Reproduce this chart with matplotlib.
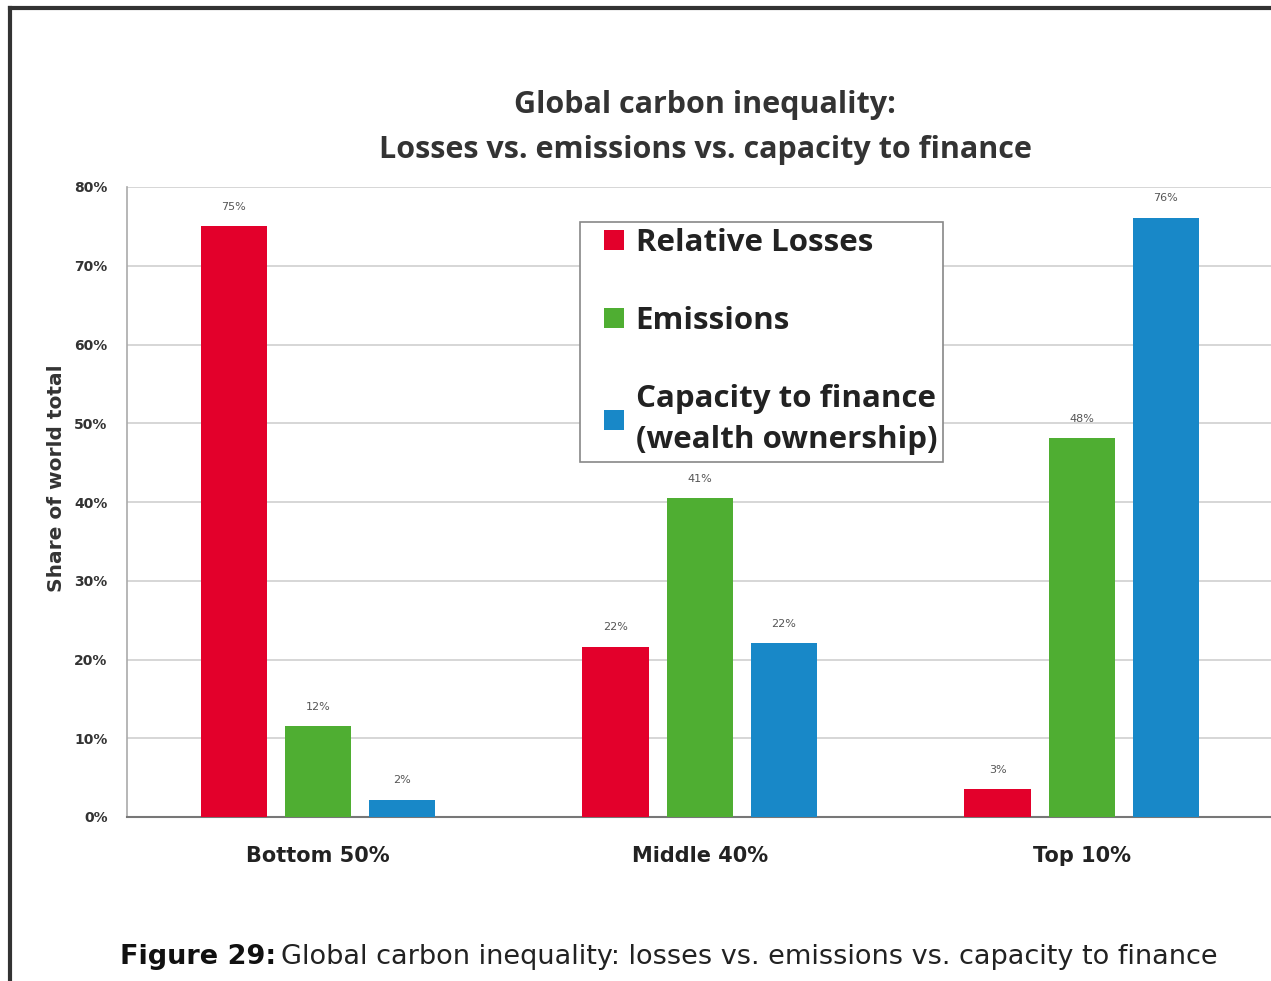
import matplotlib
matplotlib.use("Agg")
import matplotlib.pyplot as plt
from matplotlib.lines import Line2D
from matplotlib.patches import Rectangle
from matplotlib.legend_handler import HandlerPatch
import numpy as np

categories = ["Bottom 50%", "Middle 40%", "Top 10%"]
series_names = ["Relative Losses", "Emissions", "Capacity to finance\n(wealth ownership)"]
losses = [75, 21.6, 3.5]
emissions = [11.5, 40.5, 48.1]
capacity = [2.2, 22.1, 76.1]
losses_labels = ["75%", "22%", "3%"]
emissions_labels = ["12%", "41%", "48%"]
capacity_labels = ["2%", "22%", "76%"]
yticks = [0, 10, 20, 30, 40, 50, 60, 70, 80]
ytick_labels = ["0%", "10%", "20%", "30%", "40%", "50%", "60%", "70%", "80%"]

colors = ["#E3002B", "#4FAE32", "#1888C8"]

W, H = 1271, 981
fig = plt.figure(figsize=(W / 100, H / 100), dpi=100)
fig.patch.set_facecolor("white")

def fx(px):
    return px / W

def fy(py):
    return 1 - py / H

ax = fig.add_axes([fx(127), fy(817), fx(1271) - fx(127), fy(187) - fy(817)])
ax.set_xlim(-0.5, 2.495)
ax.set_ylim(0, 80)

x = np.arange(len(categories))
step = 0.22
width = 0.175
all_series = [losses, emissions, capacity]
all_labels = [losses_labels, emissions_labels, capacity_labels]
handles = []
for i, (vals, labs) in enumerate(zip(all_series, all_labels)):
    bars = ax.bar(x + (i - 1) * step, vals, width=width, color=colors[i], zorder=3,
                  label=series_names[i])
    handles.append(bars[0])
    for b, lab in zip(bars, labs):
        ax.annotate(lab, (b.get_x() + b.get_width() / 2, b.get_height()),
                    xytext=(0, 14), textcoords="offset points", ha="center", va="center",
                    fontsize=8, color="#555555", family="DejaVu Sans")

ax.set_yticks(yticks)
ax.set_yticklabels(ytick_labels, fontsize=10, fontweight="bold", color="#333333",
                   family="DejaVu Sans")
ax.set_xticks(x)
ax.set_xticklabels(categories, fontsize=15, fontweight="bold", color="#222222",
                   family="DejaVu Sans")
ax.tick_params(axis="y", length=0, pad=14)
ax.tick_params(axis="x", length=0, pad=21)
ax.grid(axis="y", color="#d0d0d0", linewidth=1.2, zorder=0)
ax.set_axisbelow(True)
for s in ["top", "right"]:
    ax.spines[s].set_visible(False)
ax.spines["left"].set_color("#aaaaaa")
ax.spines["left"].set_linewidth(1.2)
ax.spines["bottom"].set_color("#777777")
ax.spines["bottom"].set_linewidth(1.5)

fig.text(fx(57), fy(478), "Share of world total", rotation=90, ha="center", va="center",
         fontsize=14.5, fontweight="bold", color="#333333", family="DejaVu Sans")

fig.text(fx(705), fy(105), "Global carbon inequality:", ha="center", va="center",
         fontsize=22, fontweight="bold", color="#333333", family="Open Sans")
fig.text(fx(705), fy(150), "Losses vs. emissions vs. capacity to finance", ha="center",
         va="center", fontsize=22, fontweight="bold", color="#333333", family="Open Sans")


def square_right(legend, orig_handle, xdescent, ydescent, width, height, fontsize):
    s = height
    return Rectangle((width - s - xdescent, -ydescent), s, s)


leg = ax.legend(handles=handles, labels=series_names, loc="upper left",
                bbox_to_anchor=(fx(580), fy(222)), bbox_transform=fig.transFigure,
                prop={"family": "Open Sans", "weight": "bold", "size": 22.5},
                frameon=True, fancybox=False, framealpha=1, edgecolor="#888888",
                handlelength=1.2, handleheight=0.6, handletextpad=0.38,
                labelspacing=1.53, borderpad=0.2, borderaxespad=0,
                handler_map={Rectangle: HandlerPatch(patch_func=square_right)})
for t in leg.get_texts():
    t.set_color("#222222")
    t.set_linespacing(1.5)
leg.get_frame().set_linewidth(1.2)

# caption
cap1 = fig.text(fx(120), fy(957), "Figure 29:", ha="left", va="center", fontsize=19.5,
                fontweight="bold", color="#111111", family="DejaVu Sans")
fig.canvas.draw()
bb = cap1.get_window_extent()
fig.text(bb.x1 / W + 0.004, fy(957), "Global carbon inequality: losses vs. emissions vs. capacity to finance",
         ha="left", va="center", fontsize=19.5, color="#222222", family="DejaVu Sans")

# frame lines
fig.add_artist(Line2D([fx(10), fx(10)], [fy(8), 0], color="#333333", linewidth=3))
fig.add_artist(Line2D([fx(10), 1], [fy(8), fy(8)], color="#333333", linewidth=3))

fig.savefig("out.png", dpi=100)
